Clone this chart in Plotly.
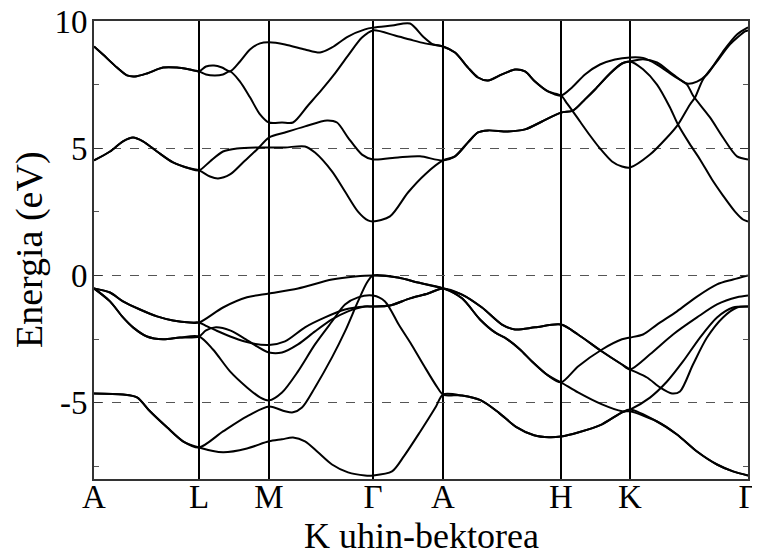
import plotly.graph_objects as go

# High-symmetry points along the k-path
kpoint_pos = [0.0, 1.05, 1.75, 2.79, 3.49, 4.67, 5.36, 6.54]
kpoint_lbl = ["A", "L", "M", "Γ", "A", "H", "K", "Γ"]

# ---- conduction bands (k, E in eV) ----
c1_k = [0, 0.16, 0.29, 0.39, 0.49, 0.63, 0.79, 0.96, 1.05,
        1.16, 1.24, 1.36, 1.49, 1.63, 1.75,
        1.91, 2.11, 2.33, 2.43, 2.54, 2.68, 2.79,
        3.04, 3.26, 3.49,
        3.61, 3.74, 3.84, 3.94, 4.14, 4.31, 4.48, 4.67,
        4.79, 4.91, 5.01, 5.16, 5.28, 5.36,
        5.49, 5.63, 5.76, 5.84, 5.96, 6.06, 6.18, 6.29, 6.41, 6.49, 6.54]
c1_e = [4.52, 4.87, 5.27, 5.42, 5.27, 4.87, 4.44, 4.20, 4.13,
        3.89, 3.81, 3.97, 4.44, 4.95, 5.42,
        5.62, 5.86, 6.09, 6.01, 5.42, 4.75, 4.56,
        4.64, 4.68, 4.52,
        4.68, 5.23, 5.62, 5.70, 5.66, 5.74, 6.05, 6.40,
        6.48, 6.92, 7.31, 7.94, 8.33, 8.41,
        8.10, 7.50, 6.60, 5.93, 5.15, 4.56, 3.77, 3.14, 2.51, 2.20, 2.12]

c2_k = [0, 0.16, 0.29, 0.39, 0.49, 0.63, 0.79, 0.96, 1.05,
        1.16, 1.29, 1.43, 1.63, 1.75,
        1.91, 2.11, 2.21, 2.38, 2.51, 2.64, 2.74, 2.79,
        2.96, 3.14, 3.31, 3.49,
        3.61, 3.74, 3.84, 3.94, 4.14, 4.31, 4.48, 4.67,
        4.79, 4.91, 5.01, 5.16, 5.28, 5.36,
        5.49, 5.63, 5.79, 5.93, 6.03, 6.13, 6.29, 6.43, 6.54]
c2_e = [4.52, 4.87, 5.27, 5.42, 5.27, 4.87, 4.44, 4.20, 4.13,
        4.48, 4.87, 4.99, 5.03, 5.03,
        5.03, 5.07, 4.83, 4.09, 3.30, 2.51, 2.16, 2.12,
        2.32, 3.26, 3.97, 4.52,
        4.68, 5.23, 5.62, 5.70, 5.66, 5.74, 6.05, 6.40,
        6.48, 6.92, 7.31, 7.94, 8.33, 8.41,
        8.50, 8.37, 7.90, 7.54, 7.62, 7.90, 8.80, 9.47, 9.75]

c3_k = [0, 0.09, 0.23, 0.33, 0.41, 0.53, 0.69, 0.83, 0.96, 1.05,
        1.12, 1.20, 1.28, 1.36, 1.46, 1.56, 1.66, 1.75,
        1.91, 2.11, 2.26, 2.38, 2.54, 2.71, 2.79,
        2.98, 3.16, 3.29, 3.39, 3.49,
        3.61, 3.74, 3.84, 3.94, 4.08, 4.21, 4.31, 4.41, 4.54, 4.67,
        4.78, 4.91, 5.06, 5.21, 5.36,
        5.49, 5.63, 5.79, 5.93, 5.99, 6.16, 6.29, 6.43, 6.54]
c3_e = [9.00, 8.68, 8.17, 7.86, 7.82, 7.94, 8.17, 8.17, 8.09, 8.02,
        8.21, 8.25, 8.17, 8.02, 8.41, 8.88, 9.12, 9.16,
        9.08, 8.88, 8.76, 8.96, 9.39, 9.67, 9.74,
        9.82, 9.90, 9.39, 9.08, 9.00,
        8.76, 8.17, 7.78, 7.66, 7.90, 8.09, 8.02, 7.62, 7.23, 7.07,
        7.39, 7.90, 8.29, 8.49, 8.57,
        8.55, 8.29, 7.86, 7.50, 7.07, 6.21, 5.42, 4.68, 4.56]

c4_k = [0, 0.09, 0.23, 0.33, 0.41, 0.53, 0.69, 0.83, 0.96, 1.05,
        1.12, 1.21, 1.29, 1.36, 1.46, 1.56, 1.66, 1.75,
        1.88, 1.99, 2.14, 2.28, 2.41, 2.54, 2.68, 2.79,
        3.01, 3.16, 3.31, 3.49,
        3.61, 3.74, 3.84, 3.94, 4.08, 4.21, 4.31, 4.41, 4.54, 4.67,
        4.73, 4.79, 4.86, 4.96, 5.06, 5.18, 5.28, 5.36,
        5.56, 5.73, 5.84, 5.96, 6.01, 6.09, 6.23, 6.36, 6.51, 6.54]
c4_e = [9.00, 8.68, 8.17, 7.86, 7.82, 7.94, 8.17, 8.17, 8.09, 8.02,
        7.90, 7.86, 7.90, 8.02, 7.62, 7.00, 6.33, 6.01,
        6.01, 6.01, 6.68, 7.31, 7.94, 8.64, 9.35, 9.63,
        9.43, 9.27, 9.12, 9.00,
        8.76, 8.17, 7.78, 7.66, 7.90, 8.09, 8.02, 7.62, 7.23, 7.07,
        6.76, 6.44, 6.05, 5.50, 4.99, 4.48, 4.28, 4.24,
        4.75, 5.42, 5.93, 6.72, 6.99, 7.70, 8.41, 9.08, 9.59, 9.63]

# ---- valence bands ----
v1_k = [0, 0.16, 0.29, 0.46, 0.63, 0.79, 0.96, 1.05,
        1.29, 1.53, 1.75,
        2.04, 2.38, 2.61, 2.79,
        3.04, 3.24, 3.49,
        3.68, 3.88, 4.08, 4.21, 4.41, 4.67,
        4.84, 5.08, 5.28, 5.36,
        5.56, 5.79, 6.03, 6.23, 6.43, 6.54]
v1_e = [-0.51, -0.67, -1.02, -1.34, -1.61, -1.77, -1.85, -1.85,
        -1.26, -0.86, -0.71,
        -0.51, -0.16, -0.04, 0.0,
        -0.08, -0.28, -0.51,
        -0.75, -1.26, -1.93, -2.12, -2.04, -1.93,
        -2.32, -2.99, -3.50, -3.69,
        -3.10, -2.32, -1.65, -1.14, -0.86, -0.79]

v2_k = [0, 0.16, 0.29, 0.46, 0.63, 0.79, 0.96, 1.05,
        1.12, 1.22, 1.39, 1.56, 1.75,
        1.91, 2.11, 2.31, 2.51, 2.71, 2.79,
        2.96, 3.16, 3.34, 3.49,
        3.68, 3.86, 4.01, 4.13, 4.26, 4.38, 4.54, 4.67,
        4.84, 5.08, 5.28, 5.36,
        5.49, 5.63, 5.83, 6.03, 6.23, 6.39, 6.54]
v2_e = [-0.51, -0.67, -1.02, -1.34, -1.61, -1.77, -1.85, -1.85,
        -1.98, -2.16, -2.44, -2.65, -2.73,
        -2.59, -2.04, -1.65, -1.34, -1.22, -1.22,
        -1.18, -0.90, -0.71, -0.51,
        -0.90, -1.73, -2.24, -2.50, -2.91, -3.38, -3.93, -4.20,
        -3.58, -2.91, -2.51, -2.44,
        -2.32, -1.93, -1.41, -0.83, -0.35, -0.16, 0.0]

v3_k = [0, 0.16, 0.29, 0.39, 0.53, 0.69, 0.86, 1.05,
        1.12, 1.22, 1.36, 1.49, 1.63, 1.75,
        1.88, 2.04, 2.21, 2.38, 2.54, 2.71, 2.79,
        2.96, 3.16, 3.34, 3.49,
        3.68, 3.88, 4.08, 4.21, 4.41, 4.67,
        4.84, 5.08, 5.28, 5.36,
        5.53, 5.66, 5.78, 5.86, 5.99, 6.13, 6.29, 6.43, 6.54]
v3_e = [-0.51, -1.02, -1.65, -2.04, -2.40, -2.51, -2.44, -2.40,
        -2.16, -2.04, -2.16, -2.44, -2.79, -3.03,
        -3.03, -2.71, -2.20, -1.73, -1.41, -1.22, -1.22,
        -1.18, -0.90, -0.71, -0.51,
        -0.75, -1.26, -1.93, -2.12, -2.04, -1.93,
        -2.32, -2.99, -3.50, -3.69,
        -4.01, -4.40, -4.64, -4.56, -3.50, -2.44, -1.65, -1.26, -1.22]

v4_k = [0, 0.16, 0.29, 0.39, 0.53, 0.69, 0.86, 1.05,
        1.19, 1.36, 1.53, 1.66, 1.75,
        1.88, 2.04, 2.21, 2.38, 2.51, 2.64, 2.79,
        2.91, 3.05, 3.18, 3.30, 3.43, 3.49,
        3.68, 3.87, 4.05, 4.22, 4.40, 4.55, 4.67,
        4.84, 5.08, 5.28, 5.36,
        5.56, 5.73, 5.89, 6.06, 6.23, 6.39, 6.54]
v4_e = [-0.51, -1.02, -1.65, -2.04, -2.40, -2.51, -2.44, -2.40,
        -2.91, -3.77, -4.40, -4.79, -4.91,
        -4.60, -3.77, -2.71, -1.81, -1.14, -0.86, -0.79,
        -1.02, -1.95, -2.75, -3.55, -4.38, -4.68,
        -4.72, -4.91, -5.40, -5.95, -6.28, -6.36, -6.33,
        -6.17, -5.85, -5.38, -5.27,
        -4.80, -4.17, -3.38, -2.44, -1.65, -1.26, -1.22]

v5_k = [0, 0.29, 0.43, 0.56, 0.73, 0.89, 1.05,
        1.29, 1.53, 1.75,
        1.91, 1.99, 2.08, 2.21, 2.38, 2.51, 2.64, 2.73, 2.79,
        3.04, 3.24, 3.49,
        3.68, 3.86, 4.01, 4.13, 4.26, 4.38, 4.54, 4.67,
        4.84, 5.08, 5.28, 5.36,
        5.63, 5.83, 6.03, 6.23, 6.39, 6.54]
v5_e = [-4.64, -4.68, -4.79, -5.34, -5.97, -6.52, -6.76,
        -6.13, -5.54, -5.15,
        -5.34, -5.38, -5.19, -4.40, -3.22, -2.20, -1.02, -0.28, 0.0,
        -0.08, -0.28, -0.51,
        -0.90, -1.73, -2.24, -2.50, -2.91, -3.38, -3.93, -4.20,
        -4.60, -5.07, -5.34, -5.34,
        -5.74, -6.25, -6.92, -7.43, -7.70, -7.86]

v6_k = [0, 0.29, 0.43, 0.56, 0.73, 0.89, 1.05,
        1.29, 1.53, 1.75,
        1.88, 1.99, 2.11, 2.24, 2.38, 2.54, 2.71, 2.79,
        2.98, 3.10, 3.26, 3.42, 3.49,
        3.68, 3.87, 4.05, 4.22, 4.40, 4.55, 4.67,
        4.84, 5.08, 5.28, 5.36,
        5.63, 5.83, 6.03, 6.23, 6.39, 6.54]
v6_e = [-4.64, -4.68, -4.79, -5.34, -5.97, -6.52, -6.76,
        -6.95, -6.80, -6.52,
        -6.44, -6.37, -6.52, -6.95, -7.43, -7.74, -7.86, -7.86,
        -7.70, -7.10, -6.15, -5.15, -4.68,
        -4.72, -4.91, -5.40, -5.95, -6.28, -6.36, -6.33,
        -6.17, -5.85, -5.38, -5.27,
        -5.74, -6.25, -6.92, -7.43, -7.70, -7.86]

bands = [(c1_k, c1_e), (c2_k, c2_e), (c3_k, c3_e), (c4_k, c4_e),
         (v1_k, v1_e), (v2_k, v2_e), (v3_k, v3_e), (v4_k, v4_e),
         (v5_k, v5_e), (v6_k, v6_e)]

y_major = [-5, 0, 5, 10]
y_minor = [-7.5, -2.5, 2.5, 7.5]
x_title = "K uhin-bektorea"
y_title = "Energia (eV)"

FONT = "Liberation Serif, Times New Roman, serif"

fig = go.Figure()
for kx, ey in bands:
    fig.add_trace(go.Scatter(x=kx, y=ey, mode="lines",
                             line=dict(color="black", width=2, shape="spline", smoothing=0.8),
                             showlegend=False, hoverinfo="skip"))

# page body adds an 8px margin, so the figure is 752x541
fig.update_layout(
    width=752, height=541,
    margin=dict(l=86, r=12, t=13, b=70),
    paper_bgcolor="white", plot_bgcolor="white",
    font=dict(family=FONT, color="black"),
)
fig.add_annotation(text=x_title, xref="paper", yref="paper", x=0.5, y=0,
                   xanchor="center", yanchor="top", yshift=-35, showarrow=False,
                   font=dict(size=36, family=FONT, color="black"))
fig.add_annotation(text=y_title, xref="paper", yref="paper", x=0, y=0.5,
                   xanchor="center", yanchor="middle", xshift=-65, textangle=-90,
                   showarrow=False, font=dict(size=38, family=FONT, color="black"))
fig.update_xaxes(
    range=[kpoint_pos[0], kpoint_pos[-1]],
    tickvals=kpoint_pos, ticktext=kpoint_lbl,
    tickfont=dict(size=33, family=FONT),
    ticks="", ticklabelstandoff=-13, ticklabeloverflow="allow",
    showgrid=True, gridcolor="black", gridwidth=2,
    zeroline=False, showline=True, linecolor="#333333", linewidth=2, mirror=True,
    automargin=False,
)
fig.update_yaxes(
    range=[-8, 10],
    tickvals=y_major, ticktext=[str(v) for v in y_major],
    tickfont=dict(size=33, family=FONT),
    ticks="inside", ticklen=8, tickcolor="#333333", ticklabelstandoff=-2,
    ticklabeloverflow="allow",
    minor=dict(tickvals=y_minor, ticks="inside", ticklen=5, tickcolor="#555555", showgrid=False),
    showgrid=True, gridcolor="#555555", gridwidth=1, griddash="dash",
    zeroline=False, showline=True, linecolor="#333333", linewidth=2, mirror="ticks",
    automargin=False,
)

fig.write_html("out.html")
